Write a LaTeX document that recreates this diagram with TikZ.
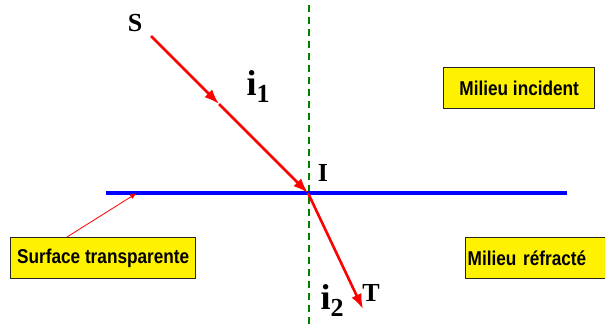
\documentclass[tikz,border=0pt]{standalone}
\usepackage{fontspec}
\setmainfont{Liberation Serif}
\newfontfamily\boxfont[FakeStretch=0.86]{Liberation Sans}
\usetikzlibrary{arrows.meta,calc}

\begin{document}
\begin{tikzpicture}[x=1pt, y=-1pt,
    ray/.style={red, line width=2.6pt, -{Latex[length=15pt,width=11pt]}},
    tag/.style={font=\fontsize{26}{26}\selectfont\bfseries, inner sep=0pt},
    medium/.style={draw=black!85, line width=1.4pt, fill=yellow, anchor=north west,
        minimum height=41pt, inner xsep=2pt,
        font=\boxfont\fontsize{20}{20}\selectfont\bfseries}]
    \clip (0,0) rectangle (605,325);

    % Normale
    \draw[green!50!black, line width=1.4pt, dash pattern=on 7pt off 5pt] (309,5) -- (309,325);

    % Surface de séparation
    \coordinate (L) at (106,193);
    \coordinate (R) at (567,193);
    \draw[blue, line width=3.5pt] (L) -- (R);

    % Rayons
    \coordinate (S0) at (151,36);
    \coordinate (M) at (219,104);
    \coordinate (I0) at (308,193);
    \coordinate (T0) at (363,309);
    \draw[ray] (S0) -- (M);
    \draw[ray] (M) -- (I0);
    \draw[ray] (I0) -- (T0);

    % Lettres
    \node[tag] (S) at (135,23) {S};
    \node[tag] (I) at (323,173) {I};
    \node[tag] (T) at (371,293) {T};
    \node[tag] (i1) at (258,87) {\fontsize{36}{36}\selectfont i\raisebox{-7pt}{\fontsize{26}{26}\selectfont 1}};
    \node[tag] (i2) at (332,301) {\fontsize{36}{36}\selectfont i\raisebox{-7pt}{\fontsize{26}{26}\selectfont 2}};

    % Cadres
    \node[medium, minimum width=185pt] (surf) at (10,237) {Surface transparente};
    \node[medium, minimum width=151pt] (inc) at (443,67) {Milieu incident};
    \node[medium, text width=156pt, align=left] (refr) at (465,237) {Milieu réfracté};

    \coordinate (P) at (137,193);
    \draw[red, line width=0.8pt, -{Latex[length=7pt,width=5pt]}] ($(surf.north west)+(57,0)$) -- (P);
\end{tikzpicture}
\end{document}
